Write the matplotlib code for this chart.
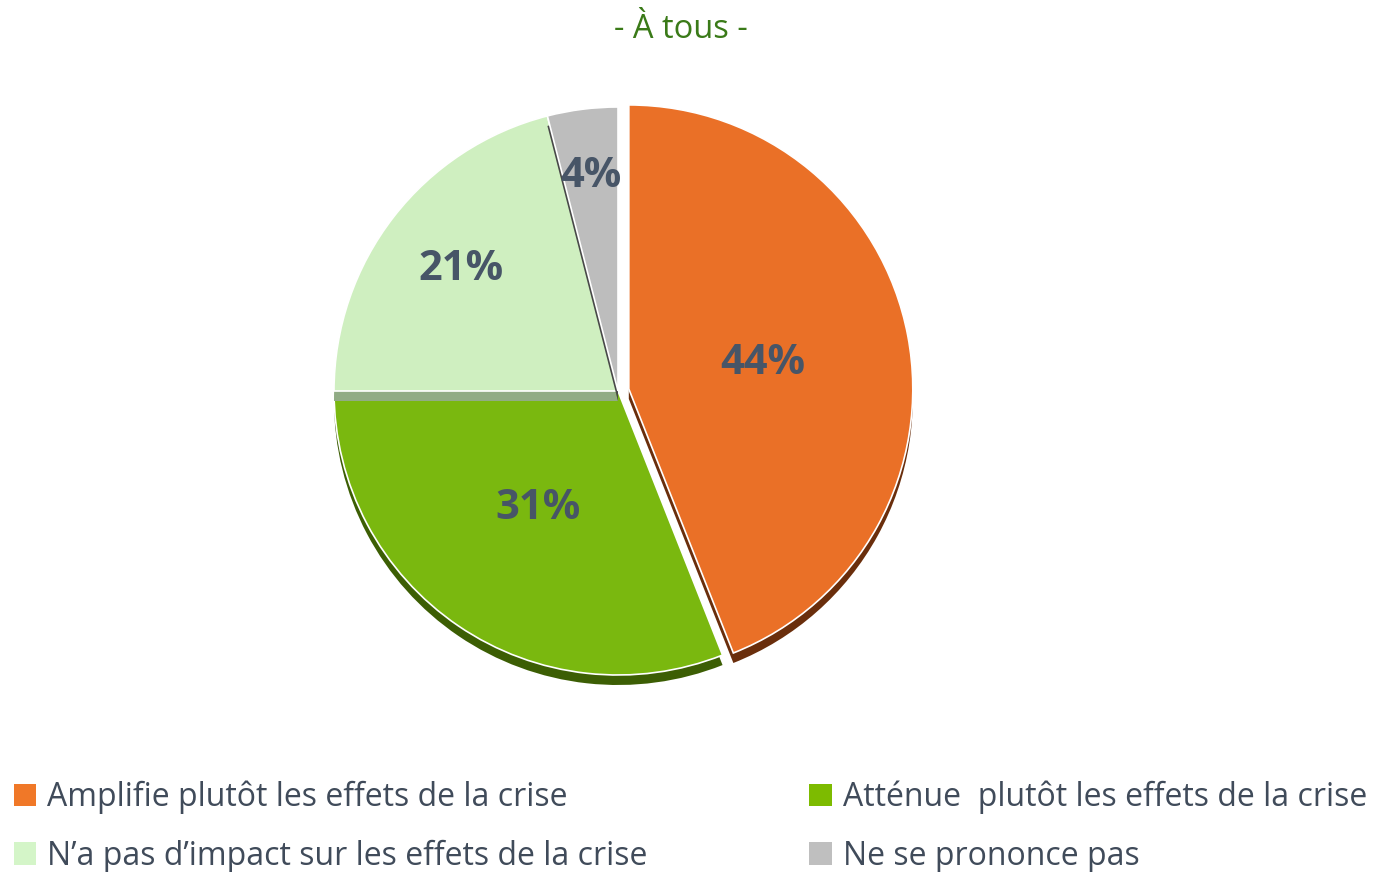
import numpy as np
import matplotlib.pyplot as plt
from matplotlib.patches import Patch

# Data
labels = ["Amplifie plutôt les effets de la crise",
          "Atténue  plutôt les effets de la crise",
          "N\u2019a pas d\u2019impact sur les effets de la crise",
          "Ne se prononce pas"]
values = [44, 31, 21, 4]
pct_text = ["44%", "31%", "21%", "4%"]

colors = ["#EA7027", "#7AB80F", "#CFEFC0", "#BDBDBD"]
side_colors = ["#6A2E0C", "#3C5E04", "#91AC85", "#484848"]
legend_colors = ["#F07828", "#7DBB00", "#D4F5C8", "#BFBFBF"]
explode = [11, 0, 0, 0]          # offset in pixels
label_dist = [0.48, 0.50, 0.70, 0.76]

plt.rcParams['font.family'] = ['Open Sans', 'DejaVu Sans']

fig = plt.figure(figsize=(13.79, 8.72), dpi=100)
ax = fig.add_axes([0, 0, 1, 1])

cx, cy, r = 618, 481, 284
depth = 10

# Draw slice by slice: side (depth) first, then top face
start = 90
total = sum(values)
for i, v in enumerate(values):
    theta2 = start
    theta1 = start - v / total * 360
    start = theta1
    ax.pie([v, total - v], startangle=theta2, counterclock=False,
           colors=[side_colors[i], 'none'], radius=r,
           center=(cx, cy - depth), explode=[explode[i], 0],
           wedgeprops=dict(linewidth=0), frame=True)
    top = ax.pie([v, total - v], startangle=theta2, counterclock=False,
                 colors=[colors[i], 'none'], radius=r,
                 center=(cx, cy), explode=[explode[i], 0],
                 wedgeprops=dict(linewidth=1.2, edgecolor='white'),
                 frame=True)[0]
    top[1].set_edgecolor('none')
    w = top[0]
    mid = np.deg2rad((w.theta1 + w.theta2) / 2)
    tx = w.center[0] + label_dist[i] * r * np.cos(mid)
    ty = w.center[1] + label_dist[i] * r * np.sin(mid)
    ax.text(tx, ty, pct_text[i], ha='center', va='center', fontsize=30,
            fontweight='bold', color='#475567')

ax.set_xlim(0, 1379)
ax.set_ylim(0, 872)
ax.set_aspect('equal')
ax.axis('off')

fig.text(0.4935, 0.966, "- À tous -", ha='center', va='center',
         fontsize=23.5, color='#3A7A18')

# Legend: two columns placed separately
leg_kw = dict(loc='center left', frameon=False, fontsize=23,
              labelcolor='#404B5A', handlelength=0.7, handleheight=0.7,
              handletextpad=0.35, labelspacing=0.8, borderaxespad=0,
              borderpad=0)
for idx, x0 in [([0, 2], 0.010), ([1, 3], 0.587)]:
    handles = [Patch(facecolor=legend_colors[i], edgecolor='none') for i in idx]
    fig.legend(handles, [labels[i] for i in idx],
               bbox_to_anchor=(x0, 0.052), **leg_kw)

fig.savefig('out.png', dpi=100)
